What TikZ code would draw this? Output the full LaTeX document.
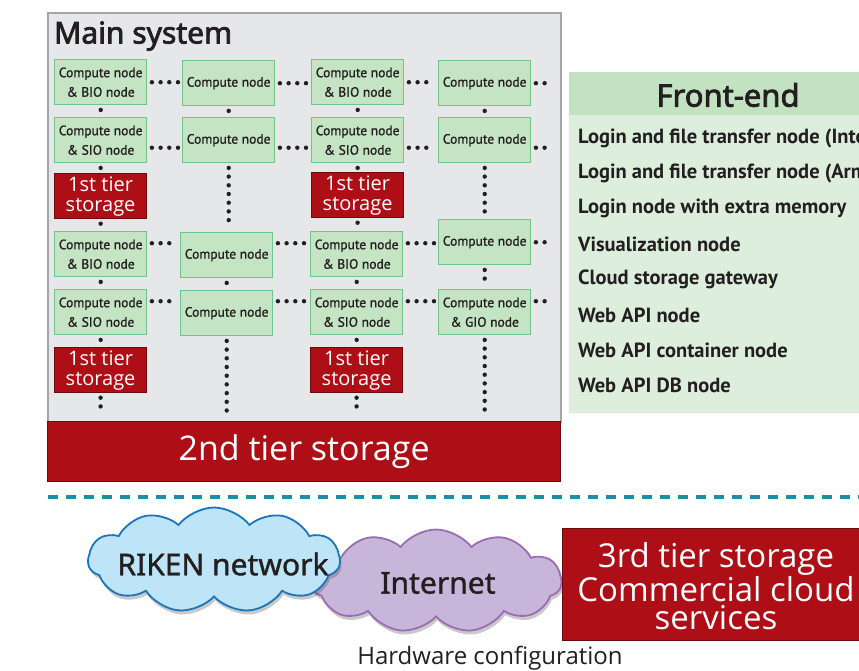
\documentclass[tikz,border=0pt]{standalone}
\usepackage{fontspec}
\setmainfont{Open Sans}
\newfontfamily\ptsans[FakeBold=1.2]{PT Sans}
\newfontfamily\ptsansb{PT Sans}
\newfontfamily\notosans[FakeBold=2.5]{Noto Sans}
\newfontfamily\notoreg[FakeBold=1.2]{Noto Sans}
\usetikzlibrary{shapes.symbols,shadows}
\definecolor{cdark}{HTML}{231F20}
\definecolor{cpanel}{HTML}{E6E7E8}
\definecolor{cpanelb}{HTML}{A3A5A8}
\definecolor{cgreen}{HTML}{C4E4C4}
\definecolor{cgreenb}{HTML}{6CC58F}
\definecolor{cred}{HTML}{AE0E16}
\definecolor{credb}{HTML}{6C0A0D}
\definecolor{cfhead}{HTML}{C2E2C2}
\definecolor{cfbody}{HTML}{DDEEDD}
\definecolor{cteal}{HTML}{1C8EA6}
\definecolor{cblue}{HTML}{BEE4F7}
\definecolor{cblueb}{HTML}{1B75BB}
\definecolor{cpurp}{HTML}{C8B6DA}
\definecolor{cpurpb}{HTML}{9A6CB3}
\pgfdeclarelayer{bg}
\pgfdeclarelayer{lines}
\pgfsetlayers{bg,lines,main}
\begin{document}
\begin{tikzpicture}[x=1pt,y=-1pt,
  cnode/.style={draw=cgreenb, fill=cgreen, line width=1.4pt, minimum width=92pt, minimum height=45pt,
    inner sep=0pt, anchor=north west, align=center, text=cdark, font=\ptsans\fontsize{13.5}{19.5}\selectfont},
  tierone/.style={draw=credb, fill=cred, line width=1.2pt, minimum width=92pt, minimum height=45pt,
    inner sep=0pt, anchor=north west, align=center, text=white, font=\fontsize{20}{20}\selectfont},
  dotline/.style={draw=cdark, line width=4.4pt, line cap=round, dash pattern=on 0pt off 8.7pt,
    shorten <=4.5pt, shorten >=4pt},
  fitem/.style={anchor=west, inner sep=0pt, text=cdark, font=\ptsansb\bfseries\fontsize{20.5}{22}\selectfont},
  cloudtxt/.style={inner sep=0pt, text=cdark, font=\notoreg\fontsize{30}{34}\selectfont},
  cloudshape/.style={cloud, cloud puffs=11, cloud puff arc=105, cloud ignores aspect, line width=1.8pt,
    drop shadow={shadow xshift=1.5pt, shadow yshift=-4pt, opacity=0.3, fill=black!70}},
]
\useasboundingbox (0,0) rectangle (859,670);
\clip (0,0) rectangle (859,670);

% main system panel
\begin{pgfonlayer}{bg}
\node[draw=cpanelb, fill=cpanel, line width=1.5pt, minimum width=513pt, minimum height=409pt,
  inner sep=0pt, anchor=north west] (mainsys) at (47,12) {};
\end{pgfonlayer}
\node[anchor=base west, inner sep=0pt, text=cdark, font=\notosans\fontsize{30}{34}\selectfont] (title) at (54,43.5) {Main system};

% row 1
\node[cnode] (r1c1) at (54,59)  {Compute node\\\& BIO node};
\node[cnode] (r1c2) at (182,60) {Compute node};
\node[cnode] (r1c3) at (311,59) {Compute node\\\& BIO node};
\node[cnode] (r1c4) at (438,60) {Compute node};
% row 2
\node[cnode] (r2c1) at (54,117)  {Compute node\\\& SIO node};
\node[cnode] (r2c2) at (182,117) {Compute node};
\node[cnode] (r2c3) at (311,117) {Compute node\\\& SIO node};
\node[cnode] (r2c4) at (438,117) {Compute node};
% first tier (upper)
\node[tierone] (ta1) at (54,173)  {1st tier\\storage};
\node[tierone] (ta3) at (311,172) {1st tier\\storage};
% row 3
\node[cnode] (r3c1) at (54,231)  {Compute node\\\& BIO node};
\node[cnode] (r3c2) at (180,232) {Compute node};
\node[cnode] (r3c3) at (310,231) {Compute node\\\& BIO node};
\node[cnode] (r3c4) at (438,219) {Compute node};
% row 4
\node[cnode] (r4c1) at (54,289)  {Compute node\\\& SIO node};
\node[cnode] (r4c2) at (180,290) {Compute node};
\node[cnode] (r4c3) at (310,289) {Compute node\\\& SIO node};
\node[cnode] (r4c4) at (438,289) {Compute node\\\& GIO node};
% first tier (lower)
\node[tierone] (tb1) at (54,347)  {1st tier\\storage};
\node[tierone] (tb3) at (310,347) {1st tier\\storage};

% ends of open dotted lines
\coordinate (e1) at (556,82);
\coordinate (e2) at (556,147);
\coordinate (e3) at (556,242);
\coordinate (e4) at (556,300);
\coordinate (b1) at (100,416);
\coordinate (b2) at (226,416);
\coordinate (b3) at (356,416);
\coordinate (b4) at (484,416);

% second tier storage
\node[draw=credb, fill=cred, line width=1.2pt, minimum width=513pt, minimum height=60pt, inner sep=0pt,
  anchor=north west, text=white, font=\fontsize{34}{36}\selectfont] (tiertwo) at (47,421) {2nd tier storage};

\begin{pgfonlayer}{lines}
% horizontal
\draw[dotline] (r1c1.east) -- (r1c1.east -| r1c2.west);
\draw[dotline] (r1c2.east) -- (r1c2.east -| r1c3.west);
\draw[dotline] (r1c3.east) -- (r1c3.east -| r1c4.west);
\draw[dotline] (r1c4.east) -- (r1c4.east -| e1);
\draw[dotline] ([yshift=-7.5pt]r2c1.east) -- ([yshift=-7.5pt]r2c1.east -| r2c2.west);
\draw[dotline] ([yshift=-7.5pt]r2c2.east) -- ([yshift=-7.5pt]r2c2.east -| r2c3.west);
\draw[dotline] ([yshift=-7.5pt]r2c3.east) -- ([yshift=-7.5pt]r2c3.east -| r2c4.west);
\draw[dotline] ([yshift=-7.5pt]r2c4.east) -- ([yshift=-7.5pt]r2c4.east -| e2);
\draw[dotline] ([yshift=11pt]r3c1.east) -- ([yshift=11pt]r3c1.east -| r3c2.west);
\draw[dotline] ([yshift=11pt]r3c1.east -| r3c2.east) -- ([yshift=11pt]r3c1.east -| r3c3.west);
\draw[dotline] ([yshift=11pt]r3c3.east) -- ([yshift=11pt]r3c3.east -| r3c4.west);
\draw[dotline] (r3c4.east) -- (r3c4.east -| e3);
\draw[dotline] ([yshift=11pt]r4c1.east) -- ([yshift=11pt]r4c1.east -| r4c2.west);
\draw[dotline] ([yshift=11pt]r4c1.east -| r4c2.east) -- ([yshift=11pt]r4c1.east -| r4c3.west);
\draw[dotline] ([yshift=11pt]r4c3.east) -- ([yshift=11pt]r4c3.east -| r4c4.west);
\draw[dotline] ([yshift=11pt]r4c4.east) -- ([yshift=11pt]r4c4.east -| e4);
% vertical col 1
\draw[dotline] (r1c1.south) -- (r2c1.north);
\draw[dotline] (r2c1.south) -- (ta1.north);
\draw[dotline] (ta1.south) -- (r3c1.north);
\draw[dotline] (r3c1.south) -- (r4c1.north);
\draw[dotline] (r4c1.south) -- (tb1.north);
\draw[dotline] (tb1.south) -- (tb1.south |- b1);
% col 2
\draw[dotline] (r1c2.south) -- (r2c2.north);
\draw[dotline] (r2c2.south) -- (r2c2.south |- r3c2.north);
\draw[dotline] (r3c2.south) -- (r4c2.north);
\draw[dotline] (r4c2.south) -- (r4c2.south |- b2);
% col 3
\draw[dotline] (r1c3.south) -- (r2c3.north);
\draw[dotline] (r2c3.south) -- (ta3.north);
\draw[dotline] (ta3.south) -- (ta3.south |- r3c3.north);
\draw[dotline] (r3c3.south) -- (r4c3.north);
\draw[dotline] (r4c3.south) -- (tb3.north);
\draw[dotline] (tb3.south) -- (tb3.south |- b3);
% col 4
\draw[dotline] (r1c4.south) -- (r2c4.north);
\draw[dotline] (r2c4.south) -- (r3c4.north);
\draw[dotline] (r3c4.south) -- (r4c4.north);
\draw[dotline] (r4c4.south) -- (r4c4.south |- b4);
\end{pgfonlayer}

% front-end panel
\node[fill=cfbody, minimum width=310pt, minimum height=341pt, inner sep=0pt, anchor=north west] (febody) at (569,72) {};
\node[fill=cfhead, minimum width=310pt, minimum height=43pt, inner sep=0pt, anchor=north west] (fehead) at (569,72) {};
\node[inner sep=0pt, text=cdark, font=\notosans\fontsize{31}{33}\selectfont] (fetitle) at (728,95) {Front-end};
\node[fitem] (f1) at (578,138) {Login and file transfer node (Intel)};
\node[fitem] (f2) at (578,173.4) {Login and file transfer node (Arm)};
\node[fitem] (f3) at (578,208.8) {Login node with extra memory};
\node[fitem] (f4) at (578,244.2) {Visualization node};
\node[fitem] (f5) at (578,279.6) {Cloud storage gateway};
\node[fitem] (f6) at (578,315) {Web API node};
\node[fitem] (f7) at (578,350.4) {Web API container node};
\node[fitem] (f8) at (578,385.8) {Web API DB node};

% dashed separator
\coordinate (dl) at (48,497);
\coordinate (dr) at (870,497);
\draw[cteal, line width=3.2pt, dash pattern=on 10pt off 8pt] (dl) -- (dr);

% clouds
\node[cloudshape, minimum width=251pt, minimum height=103pt, draw=cpurpb, fill=cpurp] (inet) at (436,581) {};
\node[cloudtxt] (inettxt) at (438,583) {Internet};
\node[cloudshape, minimum width=252pt, minimum height=105pt, draw=cblueb, fill=cblue] (riken) at (214,560) {};
\node[cloudtxt] (rikentxt) at (223,564) {RIKEN network};

% third tier
\node[draw=credb, fill=cred, line width=1.2pt, minimum width=313pt, minimum height=112pt, inner sep=0pt,
  anchor=north west] (tierthree) at (562,528) {};
\node[align=center, text=white, inner sep=0pt, font=\fontsize{33}{28.5}\selectfont] (tierthreetxt) at (716,586) {3rd tier storage\\Commercial cloud\\services};

% caption
\node[inner sep=0pt, text=cdark, font=\fontsize{24}{26}\selectfont] (caption) at (490,658) {Hardware configuration};
\end{tikzpicture}
\end{document}
